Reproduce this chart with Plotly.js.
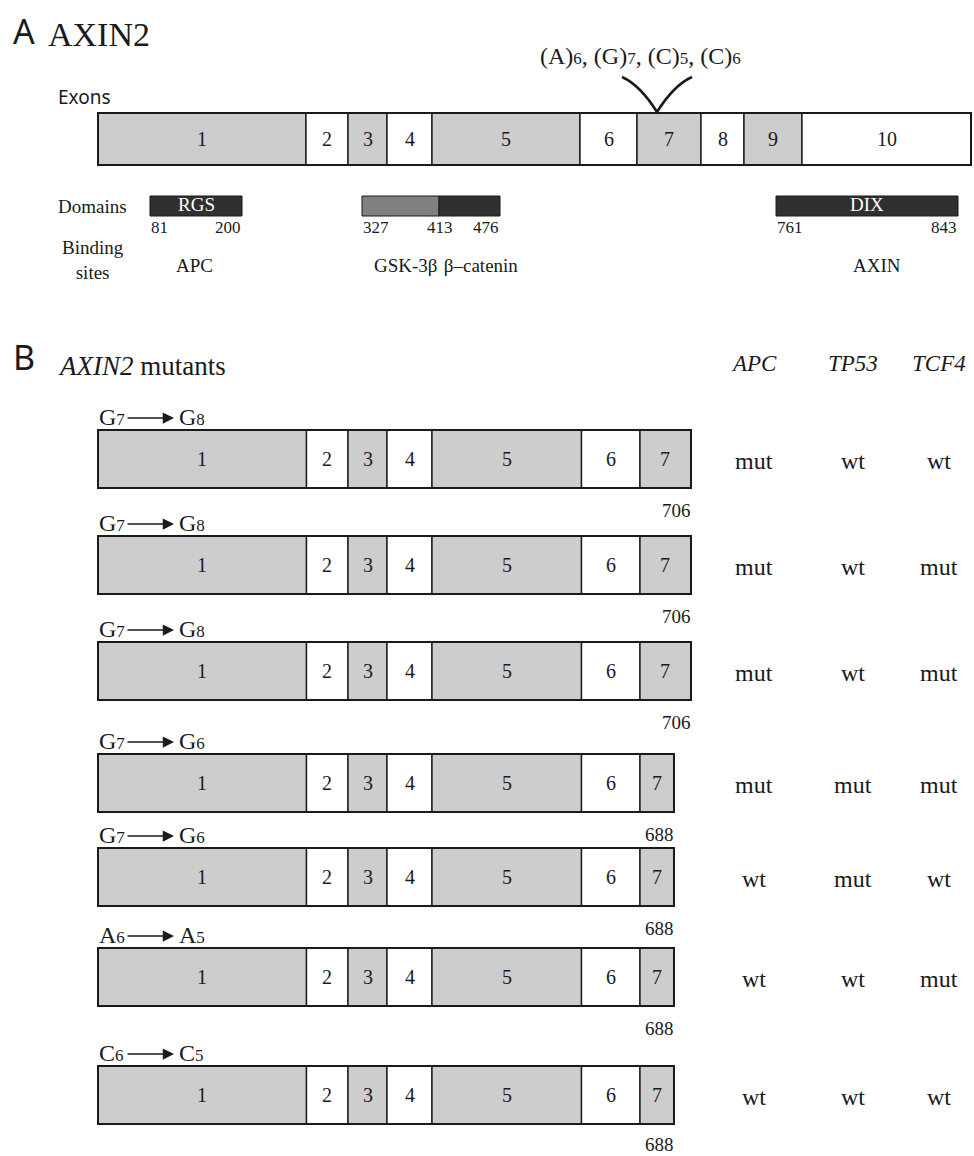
<!DOCTYPE html>
<html><head><meta charset="utf-8">
<script src="https://cdn.plot.ly/plotly-3.0.1.min.js"></script>
<style>html,body{margin:0;padding:0;background:#fff}</style>
</head><body><div id="chart" style="width:974px;height:1156px"></div>
<script>
// ---------------- data ----------------
const exonNumbers = [1, 2, 3, 4, 5, 6, 7, 8, 9, 10];
const exonShaded  = [true, false, true, false, true, false, true, false, true, false];
// exon boundaries along the diagram's horizontal axis (diagram units)
const exonEdgesA = [98, 306, 348, 387, 432, 580, 637, 701, 744, 802, 971];
const exonEdgesB = [98, 306.5, 348, 387, 432, 581.5, 640];
const repeatBases = ['A', 'G', 'C', 'C'];
const repeatLengths = [6, 7, 5, 6];
const repeatSiteX = 657;

const domainNames  = ['RGS', '', '', 'DIX'];
const domainStartAA = [81, 327, 413, 761];
const domainEndAA   = [200, 413, 476, 843];
const domainX0 = [150, 362, 439, 776];
const domainX1 = [242, 439, 500, 958];
const domainShade = ['dark', 'mid', 'dark', 'dark'];
const bindingPartners = ['APC', 'GSK-3β&#8202; β–catenin', 'AXIN'];
const bindingX = [194, 446, 877];

const mutFromBase = ['G', 'G', 'G', 'G', 'G', 'A', 'C'];
const mutFromLen  = [7, 7, 7, 7, 7, 6, 6];
const mutToLen    = [8, 8, 8, 6, 6, 5, 5];
const truncAA     = [706, 706, 706, 688, 688, 688, 688];
const geneNames   = ['APC', 'TP53', 'TCF4'];
const statusAPC   = ['mut', 'mut', 'mut', 'mut', 'wt', 'wt', 'wt'];
const statusTP53  = ['wt', 'wt', 'wt', 'mut', 'mut', 'wt', 'wt'];
const statusTCF4  = ['wt', 'mut', 'mut', 'mut', 'wt', 'mut', 'wt'];

// ---------------- layout geometry ----------------
const SERIF = 'Liberation Serif, Times New Roman, serif';
const SANS = 'Noto Sans, Open Sans, sans-serif';
const INK = '#1a1a1a';
const GREY = '#cdcdcd';
const fills = {dark: '#303030', mid: '#808080'};
const A_TOP = 113, A_BOT = 165;
const rowTop = [430, 536, 642, 754, 848, 948, 1066];
const ROW_H = 58;
const statusX = [754, 853, 939];
const exon7StartAA = 652, pxPerAA = 0.944;

const shapes = [];
const ann = [];

function txt(x, y, text, size, opts) {
  opts = opts || {};
  ann.push(Object.assign({
    x: x, y: y, xref: 'x', yref: 'y', text: text, showarrow: false,
    xanchor: 'center', yanchor: 'middle',
    font: {family: SERIF, size: size, color: opts.color || INK}
  }, opts.extra || {}));
}
function rect(x0, x1, y0, y1, fill, lw) {
  shapes.push({type: 'rect', xref: 'x', yref: 'y', x0: x0, x1: x1, y0: y0, y1: y1,
    fillcolor: fill, line: {color: INK, width: lw == null ? 1.4 : lw}, layer: 'above'});
}
function exonRow(edges, y0, y1, size) {
  for (let i = 0; i < edges.length - 1; i++) {
    rect(edges[i], edges[i + 1], y0, y1, exonShaded[i] ? GREY : '#ffffff');
    txt((edges[i] + edges[i + 1]) / 2, (y0 + y1) / 2, String(exonNumbers[i]), size);
  }
  rect(edges[0], edges[edges.length - 1], y0, y1, 'rgba(0,0,0,0)', 2);
}

// ---------- Panel A ----------
txt(24, 31, 'A', 34, {extra: {font: {family: SANS, size: 34, color: INK}}});
txt(46, 34, 'AXIN2', 34, {extra: {xanchor: 'left'}});
txt(56, 97, 'Exons', 19, {extra: {xanchor: 'left', font: {family: SANS, size: 19, color: INK}}});
exonRow(exonEdgesA, A_TOP, A_BOT, 20);

const repText = repeatBases.map((b, i) => '(' + b + ')<span style="font-size:17px">' + repeatLengths[i] + '</span>').join(', ');
txt(538, 56, repText, 24, {extra: {xanchor: 'left'}});
const vx = repeatSiteX;
shapes.push({type: 'path', xref: 'x', yref: 'y',
  path: `M ${vx - 35} 77 Q ${vx - 17} 85 ${vx} ${A_TOP - 1} Q ${vx + 17} 85 ${vx + 35} 77`,
  line: {color: INK, width: 2.6}});

txt(56, 206, 'Domains', 19, {extra: {xanchor: 'left'}});
for (let i = 0; i < domainNames.length; i++) {
  shapes.push({type: 'rect', xref: 'x', yref: 'y', x0: domainX0[i], x1: domainX1[i], y0: 196, y1: 216,
    fillcolor: fills[domainShade[i]], line: {color: INK, width: 1}});
  if (domainNames[i]) txt((domainX0[i] + domainX1[i]) / 2, 204, domainNames[i], 19, {color: '#ffffff'});
}
// residue numbers under domains
txt(domainX0[0] - 1, 227, String(domainStartAA[0]), 17, {extra: {xanchor: 'left'}});
txt(domainX1[0] + 1, 227, String(domainEndAA[0]), 17, {extra: {xanchor: 'right'}});
txt(domainX0[1] - 1, 227, String(domainStartAA[1]), 17, {extra: {xanchor: 'left'}});
txt(domainX1[1] + 1, 227, String(domainEndAA[1]), 17);
txt(domainX1[2] + 1, 227, String(domainEndAA[2]), 17, {extra: {xanchor: 'right'}});
txt(domainX0[3] - 1, 227, String(domainStartAA[3]), 17, {extra: {xanchor: 'left'}});
txt(domainX1[3] + 1, 227, String(domainEndAA[3]), 17, {extra: {xanchor: 'right'}});

txt(93, 260, 'Binding<br>sites', 19);
for (let i = 0; i < bindingPartners.length; i++) txt(bindingX[i], 265, bindingPartners[i], 19);

// ---------- Panel B ----------
txt(24, 357, 'B', 34, {extra: {font: {family: SANS, size: 34, color: INK}}});
txt(56, 366, '<i>AXIN2</i> mutants', 27, {extra: {xanchor: 'left'}});
for (let g = 0; g < geneNames.length; g++) txt(statusX[g], 363, '<i>' + geneNames[g] + '</i>', 23);

const statuses = [statusAPC, statusTP53, statusTCF4];
for (let r = 0; r < rowTop.length; r++) {
  const y0 = rowTop[r], y1 = y0 + ROW_H;
  const endX = exonEdgesB[6] + (truncAA[r] - exon7StartAA) * pxPerAA;
  exonRow(exonEdgesB.concat([endX]), y0, y1, 20);
  // mutation label
  const ly = y0 - 13;
  txt(97, ly, mutFromBase[r] + '<span style="font-size:17px">' + mutFromLen[r] + '</span>', 24, {extra: {xanchor: 'left'}});
  ann.push({x: 174, y: ly + 1, ax: 126, ay: ly + 1, xref: 'x', yref: 'y', axref: 'x', ayref: 'y',
    text: '', showarrow: true, arrowhead: 2, arrowsize: 1.5, arrowwidth: 1.5, arrowcolor: INK, standoff: 0, startstandoff: 0});
  txt(177, ly, mutFromBase[r] + '<span style="font-size:17px">' + mutToLen[r] + '</span>', 24, {extra: {xanchor: 'left'}});
  // truncation position
  txt(endX + 2, Math.min(y1 + 22, 1144), String(truncAA[r]), 19, {extra: {xanchor: 'right'}});
  for (let g = 0; g < 3; g++) txt(statusX[g], (y0 + y1) / 2 + 2, statuses[g][r], 24);
}

const layout = {
  width: 974, height: 1156,
  margin: {l: 0, r: 0, t: 0, b: 0, pad: 0},
  paper_bgcolor: '#ffffff', plot_bgcolor: '#ffffff',
  showlegend: false,
  xaxis: {range: [0, 974], visible: false, fixedrange: true},
  yaxis: {range: [1156, 0], visible: false, fixedrange: true},
  shapes: shapes, annotations: ann
};
Plotly.newPlot('chart', [{x: [], y: [], type: 'scatter', mode: 'markers', hoverinfo: 'skip'}], layout,
  {displayModeBar: false, staticPlot: true});
</script></body></html>
